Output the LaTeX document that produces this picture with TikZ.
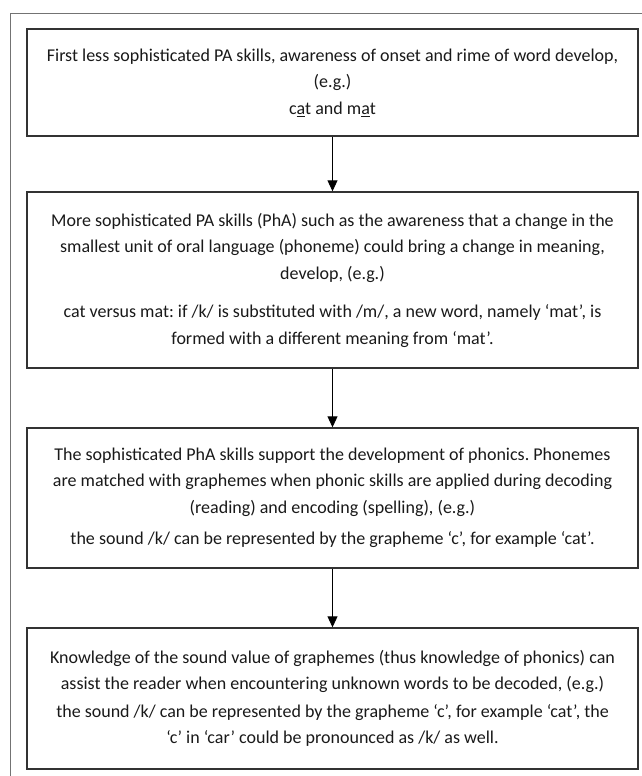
\documentclass[tikz,border=0pt]{standalone}
\usepackage{fontspec}
\setmainfont{Carlito}
\usetikzlibrary{arrows.meta}
\frenchspacing
\newcommand{\stagetext}[1]{\begin{minipage}{605pt}\centering
  \fontsize{18}{26.5}\selectfont #1\par\end{minipage}} % fixed line pitch
\tikzset{
  stage/.style={draw=black!80, line width=1.4pt, minimum width=611pt,
                inner sep=0pt, text=black!90},
  flow/.style={line width=0.9pt, -{Triangle[width=10pt,length=11pt]}}
}
\begin{document}
\begin{tikzpicture}[x=1pt,y=-1pt]
  \useasboundingbox (0,0) rectangle (641,776);
  \draw[black!55, line width=1pt] (10.5,13.5) rectangle (680,800); % outer frame
  \node[stage, minimum height=107pt] (onset) at (332.5,82.5)
    {\stagetext{First less sophisticated PA skills, awareness of onset and rime of word develop,\\
     (e.g.)\\
     c\underline{a}t and m\underline{a}t}};
  \node[stage, minimum height=176pt] (phoneme) at (332.5,280)
    {\stagetext{More sophisticated PA skills (PhA) such as the awareness that a change in the\\
     smallest unit of oral language (phoneme) could bring a change in meaning,\\
     develop, (e.g.)\\[12pt]
     cat versus mat: if /k/ is substituted with /m/, a new word, namely ‘mat’, is\\
     formed with a different meaning from ‘mat’.}};
  \node[stage, minimum height=140pt] (phonics) at (332.5,498)
    {\stagetext{The sophisticated PhA skills support the development of phonics. Phonemes\\
     are matched with graphemes when phonic skills are applied during decoding\\
     (reading) and encoding (spelling), (e.g.)\\[5pt]
     the sound /k/ can be represented by the grapheme ‘c’, for example ‘cat’.}};
  \node[stage, minimum height=141pt] (decode) at (332.5,698.5)
    {\stagetext{Knowledge of the sound value of graphemes (thus knowledge of phonics) can\\
     assist the reader when encountering unknown words to be decoded, (e.g.)\\[1pt]
     the sound /k/ can be represented by the grapheme ‘c’, for example ‘cat’, the\\
     ‘c’ in ‘car’ could be pronounced as /k/ as well.}};
  \draw[flow] (onset.south) -- (phoneme.north);
  \draw[flow] (phoneme.south) -- (phonics.north);
  \draw[flow] (phonics.south) -- (decode.north);
\end{tikzpicture}
\end{document}
